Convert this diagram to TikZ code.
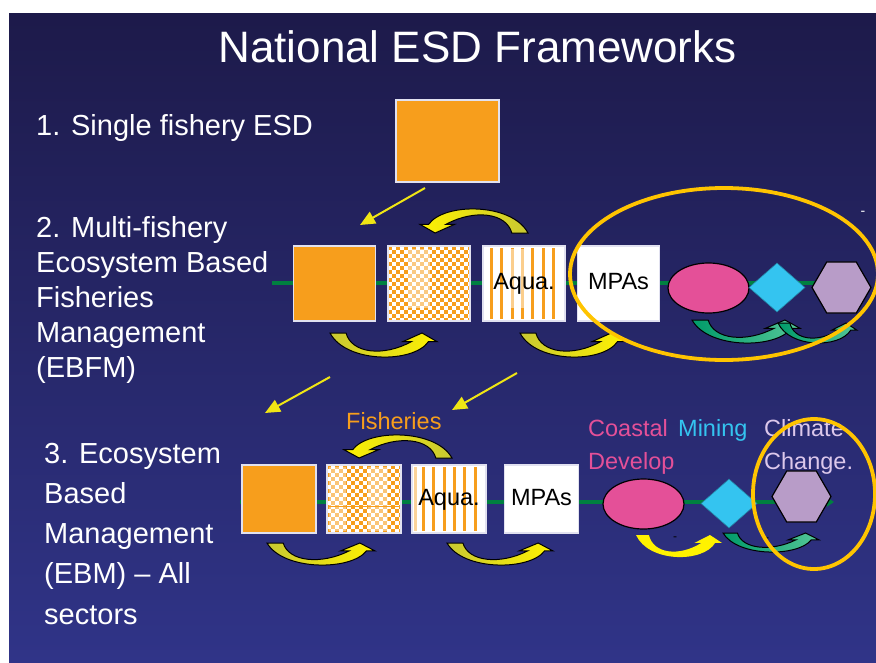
\documentclass[tikz,border=0pt]{standalone}
\usepackage{fontspec}
\setmainfont{Liberation Sans}
\usetikzlibrary{shapes.geometric,arrows.meta}

\definecolor{bgtop}{RGB}{29,26,74}
\definecolor{bgbot}{RGB}{48,52,136}
\definecolor{fishorange}{RGB}{247,158,28}
\definecolor{linegreen}{RGB}{0,128,64}
\definecolor{gold}{RGB}{255,196,0}
\definecolor{arrowyellow}{RGB}{240,230,20}
\definecolor{olive}{RGB}{200,200,50}
\definecolor{brightyellow}{RGB}{255,242,0}
\definecolor{pinkdev}{RGB}{228,80,152}
\definecolor{minblue}{RGB}{52,196,240}
\definecolor{climlav}{RGB}{184,156,200}
\definecolor{climtext}{RGB}{220,200,235}
\definecolor{boxedge}{RGB}{225,225,240}
\definecolor{greenA}{RGB}{0,155,105}
\definecolor{greenB}{RGB}{85,198,152}

% curved block arrow: x, y (top-left), xscale, yscale, style
\newcommand\crvarrow[5]{%
  \begin{scope}[shift={(#1,#2)},xscale=#3,yscale=#4]
    \path[#5] (0,0) -- (0.15,0) .. controls (0.2,0.85) and (0.5,1.0) .. (0.76,0.36)
      -- (0.68,0.36) -- (0.86,0) -- (1,0.36) -- (0.92,0.36)
      .. controls (0.78,1.27) and (0.15,1.27) .. (0,0) -- cycle;
  \end{scope}}

% checkerboard fill: x0,y0,x1,y1
\newcommand\checkfill[4]{%
  \fill[white] (#1,#2) rectangle (#3,#4);
  \begin{scope}
    \clip (#1,#2) rectangle (#3,#4);
    \foreach \ci in {0,...,21}{%
      \foreach \cj in {0,...,19}{%
        \pgfmathtruncatemacro\chk{mod(\ci+\cj,2)}%
        \ifnum\chk=0 \fill[fishorange] ({#1+4*\ci},{#2+4*\cj}) rectangle ++(4,4);\fi
      }}
  \end{scope}}

\begin{document}
\begin{tikzpicture}[x=1pt,y=-1pt,
  box/.style={draw=boxedge, line width=1.2pt, inner sep=0pt,
    text height=17pt, text depth=5pt, font=\fontsize{23.5}{26}\selectfont, text=black},
  row2box/.style={box, minimum width=82pt, minimum height=75pt},
  row3box/.style={box, minimum width=74pt, minimum height=68pt},
  bigtext/.style={text=white, anchor=base west, inner sep=0pt, font=\fontsize{29}{35}\selectfont},
  label/.style={anchor=base west, inner sep=0pt, font=\fontsize{23.5}{33}\selectfont},
  greenline/.style={draw=linegreen, line width=3.5pt},
  diagarrow/.style={draw=arrowyellow, line width=2pt, -{Triangle[length=15pt,width=13pt]}},
  yarrow/.style={draw=black, line width=1pt, left color=olive, right color=brightyellow},
  yarrowrev/.style={draw=black, line width=1pt, left color=brightyellow, right color=olive},
  garrow/.style={draw=black, line width=1pt, left color=greenA, right color=greenB},
  goldring/.style={draw=gold, line width=3.8pt},
  pinkell/.style={ellipse, fill=pinkdev, draw=black, line width=1.2pt, minimum width=81pt, minimum height=50pt, inner sep=0pt},
  bluedia/.style={diamond, fill=minblue, draw=minblue!70!black, line width=0.6pt, minimum width=56pt, minimum height=49pt, inner sep=0pt},
  lavhex/.style={regular polygon, regular polygon sides=6, fill=climlav, draw=black, line width=1.2pt, minimum size=59pt, inner sep=0pt}
]
% background
\fill[white] (0,0) rectangle (876,662);
\shade[top color=bgtop, bottom color=bgbot] (9,13) rectangle (876,662);
\useasboundingbox (0,0) rectangle (876,662);

% title
\node[text=white, anchor=base, inner sep=0pt, font=\fontsize{44}{50}\selectfont] (title) at (477.5,62) {National ESD Frameworks};

% row labels
\node[bigtext] (r1text) at (36,135) {1. Single fishery ESD};
\node[bigtext] (r2a) at (36,237) {2. Multi-fishery};
\node[bigtext] (r2b) at (36,272) {Ecosystem Based};
\node[bigtext] (r2c) at (36,307) {Fisheries};
\node[bigtext] (r2d) at (36,342) {Management};
\node[bigtext] (r2e) at (36,377) {(EBFM)};
\node[bigtext] (r3a) at (44,463) {3. Ecosystem};
\node[bigtext] (r3b) at (44,503) {Based};
\node[bigtext] (r3c) at (44,543) {Management};
\node[bigtext] (r3d) at (44,583) {(EBM) -- All};
\node[bigtext] (r3e) at (44,624) {sectors};

% green lines
\coordinate (c2s) at (272,283);
\coordinate (c2e) at (868,283);
\coordinate (c3s) at (240,502);
\coordinate (c3e) at (834,502);
\draw[greenline] (c2s) -- (c2e);
\draw[greenline, -{Triangle[length=7pt,width=9pt]}] (c3s) -- (c3e);

% top box
\node[box, fill=fishorange, minimum width=103pt, minimum height=82pt] (top) at (447.5,141) {};

% ---- row 2 ----
\node[row2box, fill=fishorange] (b21) at (334.5,283.5) {};
\checkfill{388}{246}{470}{321}
\fill[white, opacity=0.45] (408,249) rectangle (430,308);
\node[row2box] (b22) at (429,283.5) {};
\fill[white] (483,246) rectangle (565,321);
\foreach \k in {0,...,6}{\fill[fishorange] ({490+10.3*\k},248) rectangle ++(3,71);}
\fill[white, opacity=0.5] (510,249) rectangle (525,308);
\node[row2box] (b23) at (524,283.5) {Aqua.};
\node[row2box, fill=white] (b24) at (618.5,283.5) {MPAs};

% ---- row 3 ----
\node[row3box, fill=fishorange] (b31) at (279,499) {};
\checkfill{327}{465}{401}{533}
\fill[white, opacity=0.4] (329,467) rectangle (346,531);
\fill[white, opacity=0.4] (368,467) rectangle (388,531);
\draw[fishorange, line width=0.8pt] (327,506) -- (401,506);
\node[row3box] (b32) at (364,499) {};
\fill[white] (412,465) rectangle (486,533);
\foreach \k in {0,...,5}{\fill[fishorange] ({422+10.3*\k},467) rectangle ++(3,64);}
\fill[fishorange!45] (414,467) rectangle ++(2.5,64);
\node[row3box] (b33) at (449,499) {Aqua.};
\node[row3box, fill=white] (b34) at (541.5,499) {MPAs};

% row 3 labels
\node[label, text=fishorange] (fish) at (346,429) {Fisheries};
\node[label, text=pinkdev] (coast) at (588,436) {Coastal};
\node[label, text=pinkdev] (develop) at (588,469) {Develop};
\node[label, text=minblue] (mining) at (678,436) {Mining};
\node[label, text=climtext] (climate) at (764,436) {Climate};
\node[label, text=climtext] (change) at (764,469) {Change.};

% shapes
\node[pinkell] (e2) at (708.5,288) {};
\node[bluedia] (d2) at (777,287.5) {};
\node[lavhex] (h2) at (841.5,287.5) {};
\node[pinkell] (e3) at (643.5,504) {};
\node[bluedia] (d3) at (729,503.5) {};
\node[lavhex] (h3) at (801.5,496.5) {};

% small dashes
\node[text=white, anchor=base, inner sep=0pt, font=\fontsize{14}{14}\selectfont] (dash1) at (863,215) {-};
\node[text=black, anchor=base, inner sep=0pt, font=\fontsize{12}{12}\selectfont] (dash2) at (675,540) {-};
\node[text=black, anchor=base, inner sep=0pt, font=\fontsize{12}{12}\selectfont] (dash3) at (767,541) {-};

% curved arrows row 2
\crvarrow{528}{233}{-108}{-24}{yarrowrev}
\crvarrow{330}{333}{107}{24}{yarrow}
\crvarrow{520}{333}{106}{24}{yarrow}
\crvarrow{692}{320}{108}{23}{garrow}
\crvarrow{778}{323}{79}{20}{garrow}

% curved arrows row 3
\crvarrow{452}{458}{-108}{-23}{yarrowrev}
\crvarrow{267}{543}{108}{22}{yarrow}
\crvarrow{447}{543}{106}{22}{yarrow}
\crvarrow{636}{535}{86}{22}{fill=brightyellow}
\crvarrow{723}{533}{96}{19}{garrow}

% gold rings
\draw[goldring] (724,274) ellipse [x radius=154, y radius=86];
\draw[goldring] (814,494) ellipse [x radius=61, y radius=75];

% diagonal arrows
\coordinate (a1s) at (425,188);
\coordinate (a1e) at (360,225);
\coordinate (a2s) at (330,377);
\coordinate (a2e) at (265,413);
\coordinate (a3s) at (517,373);
\coordinate (a3e) at (452,410);
\draw[diagarrow] (a1s) -- (a1e);
\draw[diagarrow] (a2s) -- (a2e);
\draw[diagarrow] (a3s) -- (a3e);
\end{tikzpicture}
\end{document}
